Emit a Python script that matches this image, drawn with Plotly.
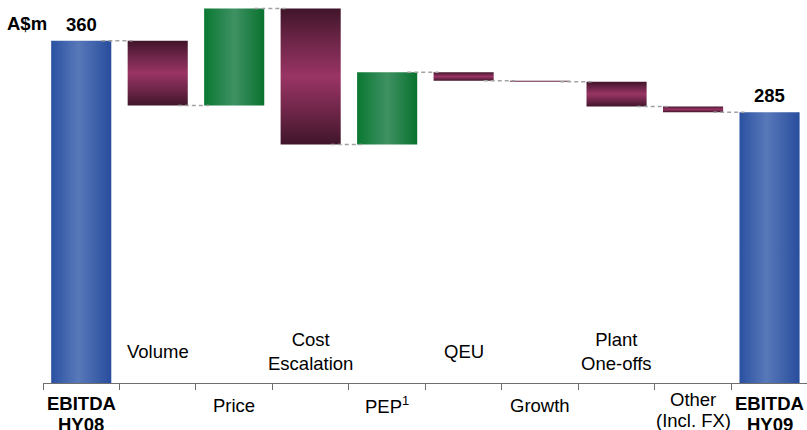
import plotly.graph_objects as go

# EBITDA bridge, HY08 -> HY09 (A$m)
categories = ["EBITDA<br>HY08", "Volume", "Price", "Cost<br>Escalation", "PEP<sup>1</sup>",
              "QEU", "Growth", "Plant<br>One-offs", "Other<br>(Incl. FX)", "EBITDA<br>HY09"]
values = [360, -68, 102, -143, 76, -9, -1, -26, -6, 285]
kinds = ["total", "delta", "delta", "delta", "delta", "delta", "delta", "delta", "delta", "total"]
label_side = ["below", "above", "below", "above", "below",
              "above", "below", "above", "below", "below"]
total_labels = ["360", "", "", "", "", "", "", "", "", "285"]

BAR_HALF = 0.393
FONT = "Liberation Sans, Arial, sans-serif"
FSIZE = 18.5

blue_scale = [[0, "#2a51a1"], [0.45, "#5878b9"], [1, "#284d9d"]]
green_scale = [[0, "#0a7832"], [0.5, "#3e9163"], [1, "#09722e"]]
maroon_scale = [[0, "#40152a"], [0.22, "#6a2446"], [0.5, "#993464"],
                [0.78, "#6a2446"], [1, "#40152a"]]

fig = go.Figure()

# bar extents from running level
bars = []
level = 0
for i, (v, k) in enumerate(zip(values, kinds)):
    if k == "total":
        lo, hi = 0, v
        level = v
    else:
        lo, hi = sorted([level, level + v])
        level += v
    bars.append((i, lo, hi, k, v, level))

for i, lo, hi, k, v, lvl in bars:
    if k == "total":
        grad = dict(type="horizontal", colorscale=blue_scale)
    elif v > 0:
        grad = dict(type="horizontal", colorscale=green_scale)
    else:
        grad = dict(type="vertical", colorscale=maroon_scale)
    x0, x1 = i - BAR_HALF, i + BAR_HALF
    fig.add_trace(go.Scatter(
        x=[x0, x1, x1, x0, x0], y=[lo, lo, hi, hi, lo],
        mode="lines", fill="toself", fillgradient=grad,
        line=dict(width=0), hoverinfo="skip", showlegend=False))

# dashed connectors between consecutive bars
for (i, lo, hi, k, v, lvl) in bars[:-1]:
    fig.add_trace(go.Scatter(
        x=[i + BAR_HALF - 0.13, i + 1 - BAR_HALF + 0.065], y=[lvl, lvl],
        mode="lines", line=dict(color="#a3a3a3", width=1.5, dash="4px,3px"),
        hoverinfo="skip", showlegend=False))

annotations = []
for i, label in enumerate(categories):
    bold = kinds[i] == "total"
    font = dict(family=FONT, size=FSIZE, color="black")
    if label_side[i] == "above":
        annotations.append(dict(x=i, y=0, xref="x", yref="y", text=label, showarrow=False,
                                yanchor="middle", yshift=32, font=font))
        continue
    # labels under the axis: lines set 21px apart
    lines = label.split("<br>")
    first = -22 if len(lines) == 1 else (-20 if bold else -16)
    for j, line in enumerate(lines):
        text = f"<b>{line}</b>" if bold else line
        annotations.append(dict(x=i, y=0, xref="x", yref="y", text=text, showarrow=False,
                                yanchor="middle", yshift=first - 21 * j, font=font))

for i, t in enumerate(total_labels):
    if t:
        annotations.append(dict(x=i, y=values[i], xref="x", yref="y", text=f"<b>{t}</b>",
                                showarrow=False, yanchor="bottom", yshift=4,
                                font=dict(family=FONT, size=FSIZE, color="black")))

annotations.append(dict(x=0, y=0, xref="paper", yref="paper", text="<b>A$m</b>",
                        showarrow=False, xanchor="right", yanchor="middle",
                        xshift=6, yshift=360,
                        font=dict(family=FONT, size=FSIZE, color="black")))

fig.update_layout(
    width=807, height=430,
    margin=dict(l=43, r=0, t=0, b=47),
    plot_bgcolor="white", paper_bgcolor="white",
    showlegend=False,
    annotations=annotations,
    xaxis=dict(range=[-0.5, 9.49], tickvals=[x - 0.5 for x in range(10)],
               showticklabels=False, ticks="outside", ticklen=6, tickcolor="#6e6e6e",
               showline=True, linecolor="#6e6e6e", linewidth=1,
               showgrid=False, zeroline=False, fixedrange=True),
    yaxis=dict(range=[0, 403], visible=False, fixedrange=True),
)

fig.write_html("out.html")
